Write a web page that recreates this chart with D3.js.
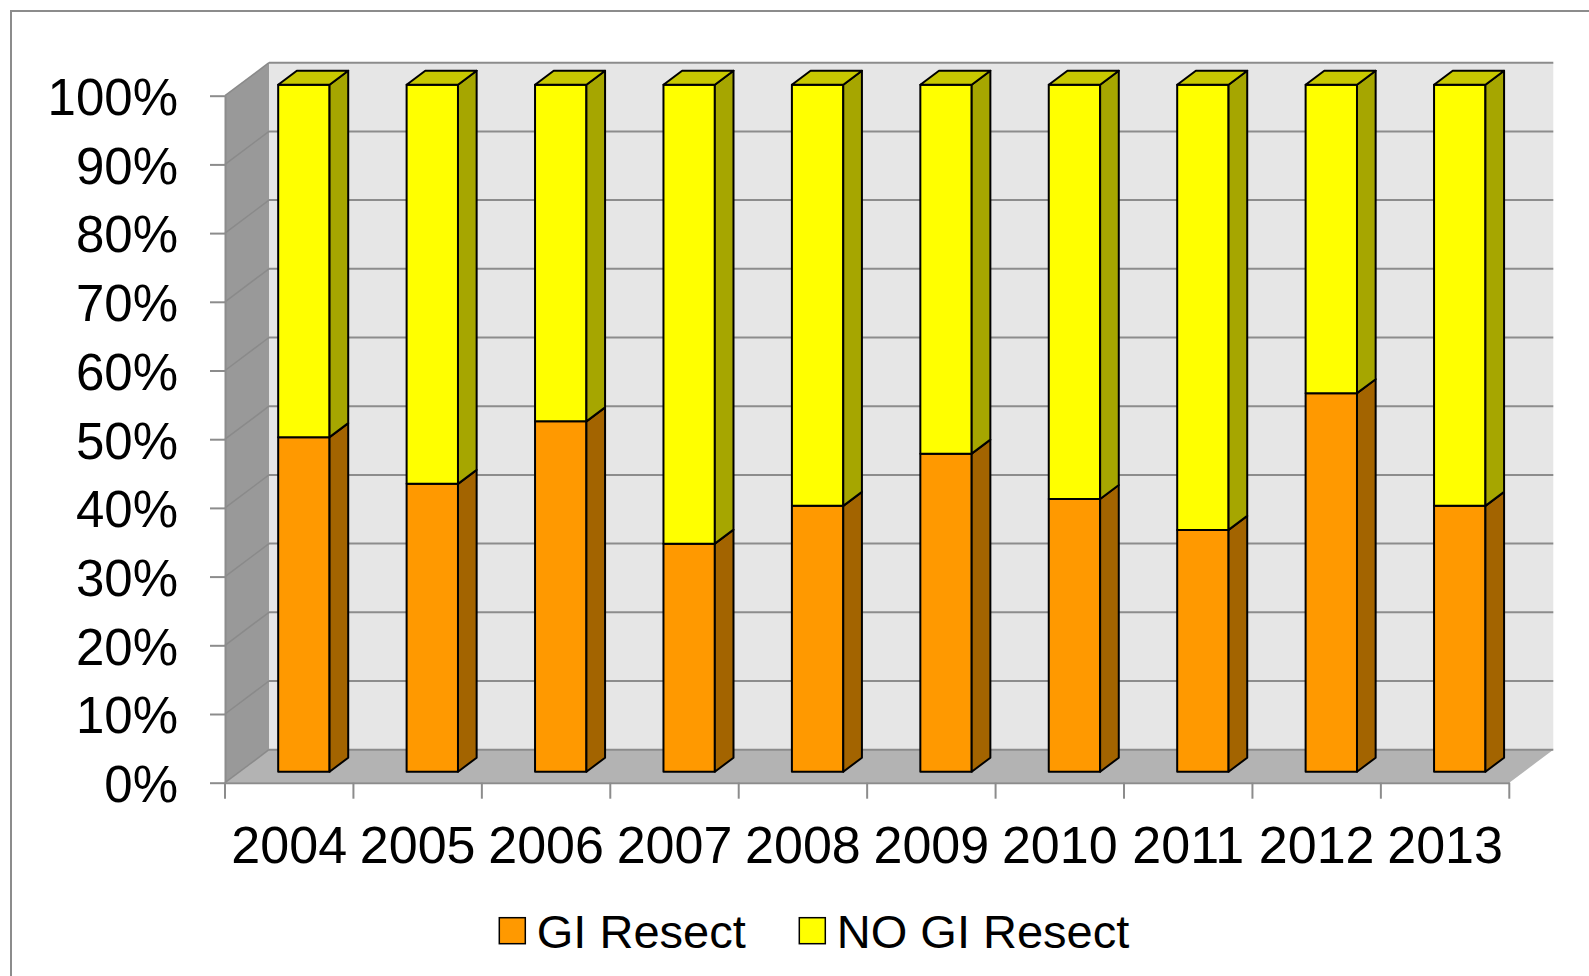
<!DOCTYPE html>
<html>
<head>
<meta charset="utf-8">
<script src="https://cdn.jsdelivr.net/npm/d3@7"></script>
<style>
  body { margin: 0; background: #fff; }
  text { font-family: "Liberation Sans", Arial, sans-serif; fill: #000; }
</style>
</head>
<body>
<svg id="chart" width="1589" height="976"></svg>
<script>
// data
var years = ["2004", "2005", "2006", "2007", "2008", "2009", "2010", "2011", "2012", "2013"];
var giResect = [48.7, 41.9, 51.0, 33.2, 38.7, 46.3, 39.7, 35.2, 55.1, 38.7];
var noGiResect = [51.3, 58.1, 49.0, 66.8, 61.3, 53.7, 60.3, 64.8, 44.9, 61.3];
var yTicks = [0, 10, 20, 30, 40, 50, 60, 70, 80, 90, 100];
var seriesNames = ["GI Resect", "NO GI Resect"];

var colors = {
    front: ["#FF9900", "#FFFF00"],
    side: ["#A36400", "#A6A600"],
    top: ["#C89A00", "#C8C800"]
};

var svg = d3.select("#chart");

//frame
svg.append("rect")
    .attr("x", 11).attr("y", 11)
    .attr("width", 1700).attr("height", 1100)
    .attr("fill", "none")
    .attr("stroke", "#8c8c8c")
    .attr("stroke-width", 2);

//front plane of the box
var plotLeft = 225, plotRight = 1509.3, plotBottom = 782.7, plotTop = 95.7;
var depthX = 44, depthY = -33;

var x = d3.scaleBand().domain(years).range([plotLeft, plotRight]).padding(0);
var y = d3.scaleLinear().domain([0, 100]).range([plotBottom, plotTop]);

//projection into the box depth (d: 0 front, 1 back)
function pt(xv, v, d) {
    return [xv + d * depthX, y(v) + d * depthY];
}
function poly(points) {
    return points.map(function(p) { return p[0] + "," + p[1]; }).join(" ");
}

var walls = svg.append("g");

//back wall
walls.append("polygon")
    .attr("points", poly([pt(plotLeft, 100, 1), pt(plotRight, 100, 1), pt(plotRight, 0, 1), pt(plotLeft, 0, 1)]))
    .attr("fill", "#E6E6E6");

//side wall
walls.append("polygon")
    .attr("points", poly([pt(plotLeft, 100, 0), pt(plotLeft, 100, 1), pt(plotLeft, 0, 1), pt(plotLeft, 0, 0)]))
    .attr("fill", "#999999");

//floor
walls.append("polygon")
    .attr("points", poly([pt(plotLeft, 0, 0), pt(plotLeft, 0, 1), pt(plotRight, 0, 1), pt(plotRight, 0, 0)]))
    .attr("fill", "#B3B3B3");

//gridlines on back wall and side wall
walls.selectAll(".grid-back")
    .data(yTicks)
    .enter().append("line")
    .attr("class", "grid-back")
    .attr("x1", function(d) { return pt(plotLeft, d, 1)[0]; })
    .attr("y1", function(d) { return pt(plotLeft, d, 1)[1]; })
    .attr("x2", function(d) { return pt(plotRight, d, 1)[0]; })
    .attr("y2", function(d) { return pt(plotRight, d, 1)[1]; })
    .attr("stroke", "#8c8c8c")
    .attr("stroke-width", 2);

walls.selectAll(".grid-side")
    .data(yTicks)
    .enter().append("line")
    .attr("class", "grid-side")
    .attr("x1", function(d) { return pt(plotLeft, d, 0)[0]; })
    .attr("y1", function(d) { return pt(plotLeft, d, 0)[1]; })
    .attr("x2", function(d) { return pt(plotLeft, d, 1)[0]; })
    .attr("y2", function(d) { return pt(plotLeft, d, 1)[1]; })
    .attr("stroke", "#8a8a8a")
    .attr("stroke-width", 1.5);

//y axis
var yAxis = svg.append("g")
    .attr("transform", "translate(" + plotLeft + ",0)")
    .call(d3.axisLeft(y)
        .tickValues(yTicks)
        .tickSize(15)
        .tickSizeOuter(0)
        .tickPadding(32)
        .tickFormat(function(d) { return d + "%"; }));
yAxis.selectAll("path, line").attr("stroke", "#8c8c8c").attr("stroke-width", 2);
yAxis.selectAll("text")
    .attr("dy", "0.37em")
    .style("font-size", "51px")
    .style("font-family", "'Liberation Sans', Arial, sans-serif");

//x axis
var xAxis = svg.append("g")
    .attr("transform", "translate(0," + plotBottom + ")")
    .call(d3.axisBottom(x).tickSize(0).tickSizeOuter(0).tickPadding(43));
xAxis.select(".domain").attr("stroke", "#8c8c8c").attr("stroke-width", 2);
xAxis.selectAll("text")
    .style("font-size", "52px")
    .style("font-family", "'Liberation Sans', Arial, sans-serif");

var edges = years.map(function(d) { return x(d); }).concat([x(years[years.length - 1]) + x.bandwidth()]);
xAxis.selectAll(".edge-tick")
    .data(edges)
    .enter().append("line")
    .attr("class", "edge-tick")
    .attr("x1", function(d) { return d; })
    .attr("x2", function(d) { return d; })
    .attr("y1", 0)
    .attr("y2", 16)
    .attr("stroke", "#8c8c8c")
    .attr("stroke-width", 2);

//3d stacked bars
var d0 = 0.333, d1 = 0.757, barFrac = 0.4;
var bars = svg.append("g");

years.forEach(function(year, i) {
    var cx = x(year) + x.bandwidth() / 2;
    var hw = x.bandwidth() * barFrac / 2;
    var x0 = cx - hw, x1 = cx + hw;
    var segs = [[0, giResect[i]], [giResect[i], giResect[i] + noGiResect[i]]];
    var g = bars.append("g");

    segs.forEach(function(s, k) {
        var v0 = s[0], v1 = s[1];
        g.append("polygon")
            .attr("points", poly([pt(x0, v1, d0), pt(x1, v1, d0), pt(x1, v0, d0), pt(x0, v0, d0)]))
            .attr("fill", colors.front[k])
            .attr("stroke", "#000")
            .attr("stroke-width", 2)
            .attr("stroke-linejoin", "round");
        g.append("polygon")
            .attr("points", poly([pt(x1, v0, d0), pt(x1, v1, d0), pt(x1, v1, d1), pt(x1, v0, d1)]))
            .attr("fill", colors.side[k])
            .attr("stroke", "#000")
            .attr("stroke-width", 2)
            .attr("stroke-linejoin", "round");
        if (k === segs.length - 1) {
            g.append("polygon")
                .attr("points", poly([pt(x0, v1, d0), pt(x1, v1, d0), pt(x1, v1, d1), pt(x0, v1, d1)]))
                .attr("fill", colors.top[k])
                .attr("stroke", "#000")
                .attr("stroke-width", 2)
                .attr("stroke-linejoin", "round");
        }
    });
});

//legend
var legendPos = [499.3, 799.3];
var legend = svg.append("g");
seriesNames.forEach(function(name, k) {
    legend.append("rect")
        .attr("x", legendPos[k]).attr("y", 917.7)
        .attr("width", 26).attr("height", 26)
        .attr("fill", colors.front[k])
        .attr("stroke", "#000")
        .attr("stroke-width", 1.5);
    legend.append("text")
        .attr("x", legendPos[k] + 37.5)
        .attr("y", 947.5)
        .style("font-size", "47px")
        .text(name);
});
</script>
</body>
</html>
